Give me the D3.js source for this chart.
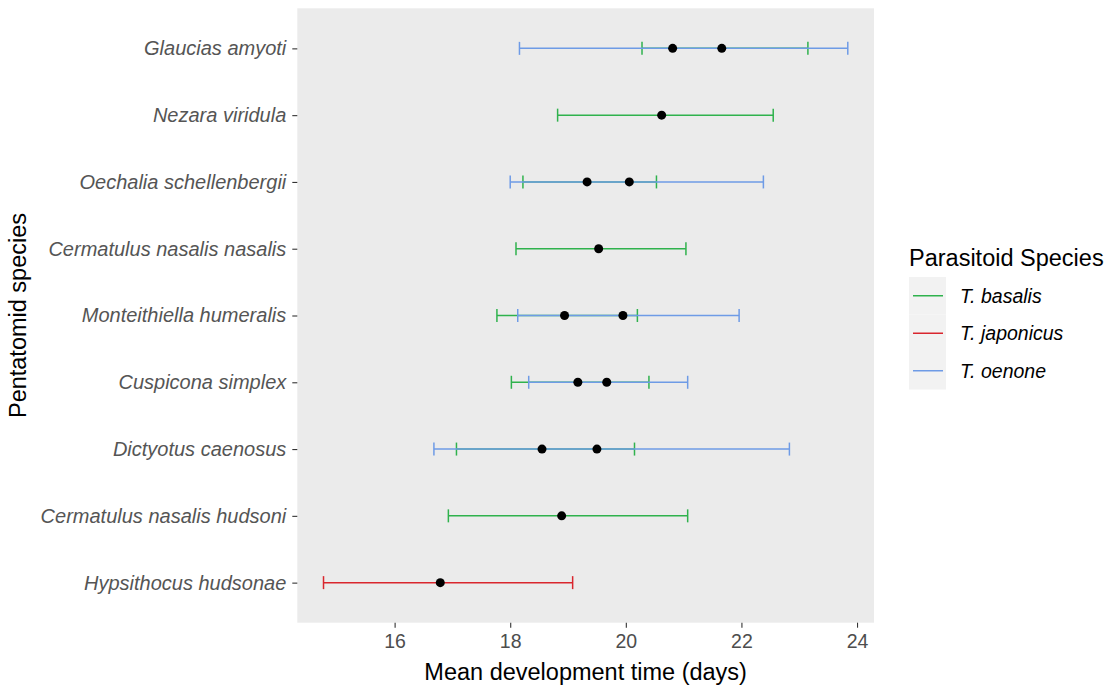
<!DOCTYPE html>
<html>
<head>
<meta charset="utf-8">
<script src="https://cdn.jsdelivr.net/npm/d3@7"></script>
<style>
  body { margin: 0; background: #ffffff; }
  svg { display: block; font-family: "Liberation Sans", Arial, sans-serif; }
</style>
</head>
<body>
<svg id="chart" width="1115" height="690"></svg>
<script>
// Host species, listed top to bottom
const species = [
  "Glaucias amyoti",
  "Nezara viridula",
  "Oechalia schellenbergii",
  "Cermatulus nasalis nasalis",
  "Monteithiella humeralis",
  "Cuspicona simplex",
  "Dictyotus caenosus",
  "Cermatulus nasalis hudsoni",
  "Hypsithocus hudsonae"
];

const parasitoids = ["T. basalis", "T. japonicus", "T. oenone"];
const parasitoidColors = ["#2fb24d", "#d9262e", "#6e9be6"];

// T. basalis
const basalisSpecies = [
  "Glaucias amyoti", "Nezara viridula", "Oechalia schellenbergii",
  "Cermatulus nasalis nasalis", "Monteithiella humeralis", "Cuspicona simplex",
  "Dictyotus caenosus", "Cermatulus nasalis hudsoni"
];
const basalisMean = [21.66, 20.62, 19.33, 19.53, 18.94, 19.17, 18.55, 18.89];
const basalisLow  = [20.28, 18.82, 18.22, 18.10, 17.77, 18.02, 17.07, 16.93];
const basalisHigh = [23.15, 22.55, 20.53, 21.04, 20.20, 20.40, 20.15, 21.07];

// T. japonicus
const japonicusSpecies = ["Hypsithocus hudsonae"];
const japonicusMean = [16.79];
const japonicusLow  = [14.77];
const japonicusHigh = [19.08];

// T. oenone
const oenoneSpecies = [
  "Glaucias amyoti", "Oechalia schellenbergii", "Monteithiella humeralis",
  "Cuspicona simplex", "Dictyotus caenosus"
];
const oenoneMean = [20.81, 20.06, 19.95, 19.67, 19.50];
const oenoneLow  = [18.16, 18.00, 18.13, 18.32, 16.68];
const oenoneHigh = [23.84, 22.38, 21.96, 21.07, 22.83];

const xTicks = [16, 18, 20, 22, 24];

// Flatten into one table of rows
function rowsFor(name, sp, mean, lo, hi) {
  return sp.map((s, i) => ({ parasitoid: name, species: s, mean: mean[i], lo: lo[i], hi: hi[i] }));
}
const rows = [
  ...rowsFor("T. basalis", basalisSpecies, basalisMean, basalisLow, basalisHigh),
  ...rowsFor("T. japonicus", japonicusSpecies, japonicusMean, japonicusLow, japonicusHigh),
  ...rowsFor("T. oenone", oenoneSpecies, oenoneMean, oenoneLow, oenoneHigh)
];

const svg = d3.select("#chart");
const panel = { left: 297.3, right: 874, top: 8.3, bottom: 622.7 };

const color = d3.scaleOrdinal().domain(parasitoids).range(parasitoidColors);

// Continuous x with 5% padding on each side
const xMin = d3.min(rows, d => d.lo), xMax = d3.max(rows, d => d.hi);
const pad = (xMax - xMin) * 0.05;
const x = d3.scaleLinear().domain([xMin - pad, xMax + pad]).range([panel.left, panel.right]);

// Discrete y: first category at top, 0.6 units of padding at each end
const n = species.length;
const yIdx = d3.scaleLinear().domain([0.4, n + 0.6]).range([panel.bottom, panel.top]);
const y = s => yIdx(n - species.indexOf(s));

// Panel background
svg.append("rect")
  .attr("x", panel.left).attr("y", panel.top)
  .attr("width", panel.right - panel.left).attr("height", panel.bottom - panel.top)
  .attr("fill", "#ebebeb");

// Error bars
const capHalf = 6.5;
const bars = svg.append("g").selectAll("g").data(rows).join("g")
  .attr("stroke", d => color(d.parasitoid))
  .attr("stroke-width", 1.5)
  .attr("fill", "none");
bars.append("line")
  .attr("x1", d => x(d.lo)).attr("x2", d => x(d.hi))
  .attr("y1", d => y(d.species)).attr("y2", d => y(d.species));
bars.append("line")
  .attr("x1", d => x(d.lo)).attr("x2", d => x(d.lo))
  .attr("y1", d => y(d.species) - capHalf).attr("y2", d => y(d.species) + capHalf);
bars.append("line")
  .attr("x1", d => x(d.hi)).attr("x2", d => x(d.hi))
  .attr("y1", d => y(d.species) - capHalf).attr("y2", d => y(d.species) + capHalf);

// Mean points
svg.append("g").selectAll("circle").data(rows).join("circle")
  .attr("cx", d => x(d.mean)).attr("cy", d => y(d.species))
  .attr("r", 4.5).attr("fill", "#000");

// X axis
const xAxis = svg.append("g")
  .attr("transform", `translate(0,${panel.bottom})`)
  .call(d3.axisBottom(x).tickValues(xTicks).tickSize(5).tickPadding(6).tickFormat(d3.format("d")));
xAxis.select(".domain").remove();
xAxis.selectAll(".tick line").attr("stroke", "#333333").attr("stroke-width", 1.1);
xAxis.selectAll(".tick text")
  .attr("fill", "#4d4d4d").style("font-size", "19.5px");

// Y axis
const yBand = d3.scalePoint().domain(species.slice().reverse())
  .range([yIdx(1), yIdx(n)]);
const yAxis = svg.append("g")
  .attr("transform", `translate(${panel.left},0)`)
  .call(d3.axisLeft(yBand).tickSize(5).tickPadding(6));
yAxis.select(".domain").remove();
yAxis.selectAll(".tick line").attr("stroke", "#333333").attr("stroke-width", 1.1);
yAxis.selectAll(".tick text")
  .attr("fill", "#555555").style("font-size", "20px").style("font-style", "italic");

// Axis titles
svg.append("text")
  .attr("x", (panel.left + panel.right) / 2).attr("y", 680)
  .attr("text-anchor", "middle").attr("fill", "#000")
  .style("font-size", "23.5px")
  .text("Mean development time (days)");

svg.append("text")
  .attr("transform", `translate(26,${(panel.top + panel.bottom) / 2}) rotate(-90)`)
  .attr("text-anchor", "middle").attr("fill", "#000")
  .style("font-size", "23.5px")
  .text("Pentatomid species");

// Legend
const legend = svg.append("g").attr("transform", "translate(909,0)");
legend.append("text")
  .attr("x", 0).attr("y", 266)
  .attr("fill", "#000").style("font-size", "23.5px")
  .text("Parasitoid Species");
const keyTop = 277, keyH = 37.5, keyW = 37;
parasitoids.forEach((p, i) => {
  const ky = keyTop + i * keyH;
  legend.append("rect")
    .attr("x", 0).attr("y", ky).attr("width", keyW).attr("height", keyH)
    .attr("fill", "#f2f2f2");
  legend.append("line")
    .attr("x1", 4).attr("x2", keyW - 3)
    .attr("y1", ky + keyH / 2).attr("y2", ky + keyH / 2)
    .attr("stroke", color(p)).attr("stroke-width", 1.5);
  legend.append("text")
    .attr("x", 51).attr("y", ky + keyH / 2 + 7)
    .attr("fill", "#000").style("font-size", "19.5px").style("font-style", "italic")
    .text(p);
});
</script>
</body>
</html>
